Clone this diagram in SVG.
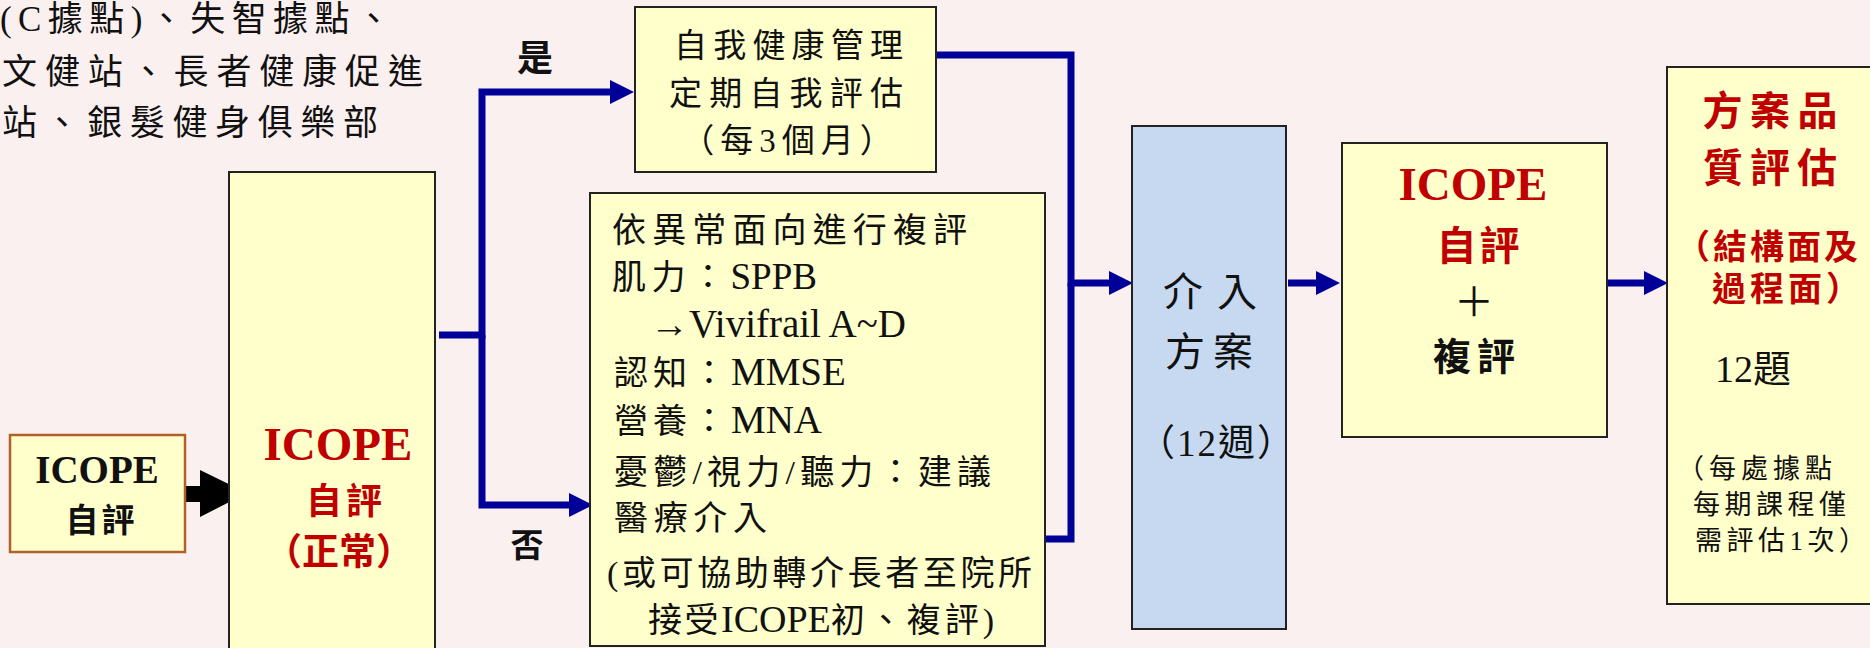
<svg xmlns="http://www.w3.org/2000/svg" width="1870" height="648" viewBox="0 0 1870 648">
<defs>
<style>
text { font-family: "Liberation Serif", "Noto Sans CJK TC", serif; fill: #111; }
.b { font-weight: bold; }
.red { fill: #C00000; }
.box { fill: #FFFFCC; stroke: #222; stroke-width: 2; }
.conn { fill: none; stroke: #000099; stroke-width: 7; stroke-linejoin: miter; }
</style>
<marker id="ah" viewBox="0 0 24 24" markerWidth="24" markerHeight="24" markerUnits="userSpaceOnUse" refX="2" refY="12" orient="auto">
<path d="M0,0 L24,12 L0,24 z" fill="#000099"/>
</marker>
</defs>
<rect x="0" y="0" width="1870" height="648" fill="#FAF0F0"/>

<g id="intro-text" font-size="35">
<text x="0" y="31" textLength="391">(C據點)、失智據點、</text>
<text x="2" y="84" textLength="421">文健站、長者健康促進</text>
<text x="2" y="135" textLength="376">站、銀髮健身俱樂部</text>
</g>

<g id="connectors">
<path class="conn" d="M439,335 H482 V92 H612" marker-end="url(#ah)"/>
<path class="conn" d="M482,335 V505 H571" marker-end="url(#ah)"/>
<path class="conn" d="M936,55 H1071 V283 H1111" marker-end="url(#ah)"/>
<path class="conn" d="M1045,539 H1071 V283"/>
<path class="conn" d="M1288,283 H1318" marker-end="url(#ah)"/>
<path class="conn" d="M1601,283 H1646" marker-end="url(#ah)"/>
<polygon points="185,486 200,486 200,470 247,493 200,517 200,502 185,502" fill="#000"/>
<text class="b" x="535" y="71" font-size="36" text-anchor="middle">是</text>
<text class="b" x="527" y="557" font-size="33" text-anchor="middle">否</text>
</g>

<g id="node-icope-start">
<rect x="10" y="435" width="175" height="117" fill="#FFFFCC" stroke="#B0602A" stroke-width="2.5"/>
<text class="b" x="97" y="483" font-size="39" text-anchor="middle">ICOPE</text>
<text class="b" x="100" y="532" font-size="33" text-anchor="middle" textLength="69">自評</text>
</g>

<g id="node-icope-normal">
<rect class="box" x="229" y="172" width="206" height="500"/>
<text class="b red" x="338" y="460" font-size="47" text-anchor="middle">ICOPE</text>
<text class="b red" x="344" y="514" font-size="36" text-anchor="middle" textLength="76">自評</text>
<text class="b red" x="339" y="565" font-size="37" text-anchor="middle">（正常）</text>
</g>

<g id="node-self-manage">
<rect class="box" x="635" y="7" width="301" height="165"/>
<text x="674" y="57" font-size="33" textLength="229">自我健康管理</text>
<text x="669" y="105" font-size="33" textLength="234">定期自我評估</text>
<text x="790" y="152" font-size="33" text-anchor="middle" letter-spacing="6">（每3個月）</text>
</g>

<g id="node-reassess">
<rect class="box" x="590" y="193" width="455" height="453"/>
<text x="612" y="242" font-size="34" textLength="355">依異常面向進行複評</text>
<text x="612" y="289" font-size="34"><tspan letter-spacing="5.5">肌力：</tspan><tspan font-size="37">SPPB</tspan></text>
<text x="650" y="337" font-size="39">→Vivifrail A~D</text>
<text x="614" y="385" font-size="34"><tspan letter-spacing="5">認知：</tspan><tspan font-size="39">MMSE</tspan></text>
<text x="614" y="433" font-size="34"><tspan letter-spacing="5">營養：</tspan><tspan font-size="39">MNA</tspan></text>
<text x="614" y="484" font-size="34" textLength="377">憂鬱/視力/聽力：建議</text>
<text x="614" y="530" font-size="34" textLength="153">醫療介入</text>
<text x="607" y="585" font-size="34" textLength="425">(或可協助轉介長者至院所</text>
<text x="648" y="632" font-size="34"><tspan letter-spacing="2.5">接受</tspan><tspan font-size="38">ICOPE</tspan><tspan letter-spacing="4">初、複評)</tspan></text>
</g>

<g id="node-intervention">
<rect x="1132" y="126" width="154" height="503" fill="#C6D9F1" stroke="#222" stroke-width="2"/>
<text x="1210" y="306" font-size="40" text-anchor="middle" textLength="94">介入</text>
<text x="1209" y="366" font-size="40" text-anchor="middle" textLength="88">方案</text>
<text x="1217" y="456" font-size="37" text-anchor="middle" letter-spacing="2">（12週）</text>
</g>

<g id="node-icope-reassess">
<rect class="box" x="1342" y="143" width="265" height="294"/>
<text class="b red" x="1473" y="200" font-size="47" text-anchor="middle">ICOPE</text>
<text class="b red" x="1478" y="260" font-size="40" text-anchor="middle" textLength="83">自評</text>
<text x="1474" y="302" font-size="40" text-anchor="middle" dominant-baseline="central">＋</text>
<text class="b" x="1474" y="370" font-size="38" text-anchor="middle" textLength="82">複評</text>
</g>

<g id="node-quality">
<rect class="box" x="1667" y="67" width="215" height="537"/>
<text class="b red" x="1770" y="125" font-size="40" text-anchor="middle" textLength="135">方案品</text>
<text class="b red" x="1770" y="182" font-size="40" text-anchor="middle" textLength="134">質評估</text>
<text class="b red" x="1676" y="259" font-size="34" letter-spacing="3">（結構面及</text>
<text class="b red" x="1712" y="301" font-size="34" letter-spacing="4">過程面）</text>
<text x="1715" y="382" font-size="38">12題</text>
<text x="1677" y="478" font-size="27" letter-spacing="5">（每處據點</text>
<text x="1693" y="514" font-size="27" letter-spacing="4.5">每期課程僅</text>
<text x="1695" y="550" font-size="27" letter-spacing="4.5">需評估1次）</text>
</g>
</svg>
